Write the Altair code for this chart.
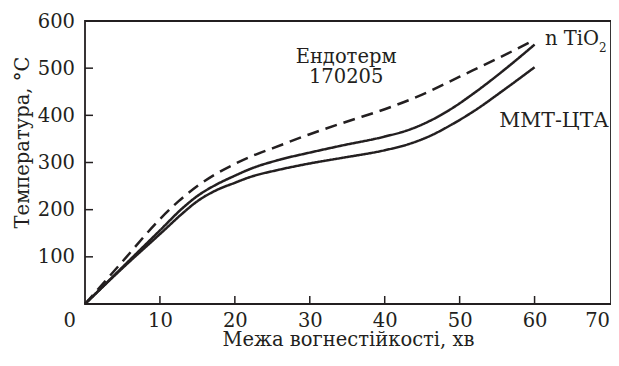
import altair as alt
import pandas as pd

# ---- data ----
x_dash = [0, 5, 10, 12.5, 15, 17.5, 20, 22.5, 25, 30, 35, 40, 45, 50, 55, 60]
y_dash = [0, 90, 180, 218, 250, 276, 297, 315, 330, 360, 387, 413, 444, 482, 520, 560]

x_up = [0, 5, 10, 13, 15, 17.5, 20, 22, 26, 30, 34, 40, 43, 46, 49, 52, 56, 60]
y_up = [0, 78, 156, 203, 229, 253, 272, 286, 306, 321, 335, 355, 368, 388, 415, 448, 497, 550]

x_low = [0, 5, 10.4, 13, 15, 17.5, 20, 22, 26, 30, 34, 40, 43, 46, 49, 52, 56, 60]
y_low = [0, 76, 154, 192, 218, 241, 257, 269, 285, 298, 309, 326, 338, 356, 381, 410, 455, 502]

series_names = ["Ендотерм 170205", "n TiO2", "ММТ-ЦТА"]

x_tick_values = [0, 10, 20, 30, 40, 50, 60, 70]
y_tick_values = [100, 200, 300, 400, 500, 600]
inner_x_ticks = [10, 20, 30, 40, 50, 60]
inner_y_ticks = [100, 200, 300, 400, 500]

center_labels = ["Ендотерм", "170205"]
center_label_x = [34.85, 34.85]
center_label_y = [511, 469]

wide_labels = ["ММТ-ЦТА"]
wide_label_x = [62.6]
wide_label_y = [376]

left_labels = ["n TiO"]
left_label_x = [61.4]
left_label_y = [550]

sub_labels = ["2"]
sub_label_x = [68.6]
sub_label_y = [535]

x_title = "Межа вогнестійкості, хв"
y_title = "Температура, °C"

# ---- build tables ----
rows = []
for name, xs, ys in zip(series_names, [x_dash, x_up, x_low], [y_dash, y_up, y_low]):
    for xv, yv in zip(xs, ys):
        rows.append({"series": name, "x": xv, "y": yv})
lines_df = pd.DataFrame(rows)

INK = "#231f20"
FONT = "DejaVu Serif"
FS = 19.5
W, H = 526, 283

xscale = alt.Scale(domain=[0, 70.2], nice=False, zero=False)
yscale = alt.Scale(domain=[0, 600], nice=False)

x_enc = alt.X(
    "x:Q", scale=xscale,
    axis=alt.Axis(
        title=x_title, values=x_tick_values, ticks=False, tickSize=0, domain=False, grid=False,
        labelExpr="datum.value == 0 ? '' : datum.label", labelFlush=4,
        labelPadding=7.5, labelFont=FONT, labelFontSize=FS, labelColor=INK,
        titleFont=FONT, titleFontSize=FS, titleFontWeight="normal", titleColor=INK,
        titleY=41.5, titleBaseline="alphabetic",
    ),
)
y_enc = alt.Y(
    "y:Q", scale=yscale,
    axis=alt.Axis(
        title=y_title, values=y_tick_values, ticks=False, tickSize=0, domain=False, grid=False,
        labelPadding=10.5, labelFont=FONT, labelFontSize=FS, labelColor=INK, labelFlush=False,
        titleFont=FONT, titleFontSize=FS, titleFontWeight="normal", titleColor=INK,
        titleX=-57, titleY=121, titleAngle=270, titleBaseline="alphabetic", titleAlign="center",
    ),
)

lines = alt.Chart(lines_df).mark_line(strokeWidth=2.5, color=INK, interpolate="monotone").encode(
    x=x_enc,
    y=y_enc,
    detail="series:N",
    strokeDash=alt.StrokeDash(
        "series:N",
        scale=alt.Scale(domain=series_names, range=[[12, 7], [1, 0], [1, 0]]),
        legend=None,
    ),
)

xt = alt.Chart(pd.DataFrame({"x": inner_x_ticks})).mark_rule(color=INK, strokeWidth=1.5).encode(
    x=alt.X("x:Q", scale=xscale),
    y=alt.value(H),
    y2=alt.value(H - 8),
)
yt = alt.Chart(pd.DataFrame({"y": inner_y_ticks})).mark_rule(color=INK, strokeWidth=1.5).encode(
    y=alt.Y("y:Q", scale=yscale),
    x=alt.value(0),
    x2=alt.value(8),
)

origin = alt.Chart(pd.DataFrame({"x": [0], "y": [0], "t": ["0"]})).mark_text(
    font=FONT, fontSize=FS, color=INK, align="right", baseline="top", dx=-9, dy=7.5
).encode(x=alt.X("x:Q", scale=xscale), y=alt.Y("y:Q", scale=yscale), text="t:N")

ctext = alt.Chart(pd.DataFrame({"x": center_label_x, "y": center_label_y, "t": center_labels})).mark_text(
    font=FONT, fontSize=FS, color=INK, align="center", baseline="alphabetic"
).encode(x=alt.X("x:Q", scale=xscale), y=alt.Y("y:Q", scale=yscale), text="t:N")

wtext = alt.Chart(pd.DataFrame({"x": wide_label_x, "y": wide_label_y, "t": wide_labels})).mark_text(
    font=FONT, fontSize=20.5, color=INK, align="center", baseline="alphabetic"
).encode(x=alt.X("x:Q", scale=xscale), y=alt.Y("y:Q", scale=yscale), text="t:N")

ltext = alt.Chart(pd.DataFrame({"x": left_label_x, "y": left_label_y, "t": left_labels})).mark_text(
    font=FONT, fontSize=FS, color=INK, align="left", baseline="alphabetic"
).encode(x=alt.X("x:Q", scale=xscale), y=alt.Y("y:Q", scale=yscale), text="t:N")

stext = alt.Chart(pd.DataFrame({"x": sub_label_x, "y": sub_label_y, "t": sub_labels})).mark_text(
    font=FONT, fontSize=12, color=INK, align="left", baseline="alphabetic"
).encode(x=alt.X("x:Q", scale=xscale), y=alt.Y("y:Q", scale=yscale), text="t:N")

chart = alt.layer(lines, xt, yt, origin, ctext, wtext, ltext, stext).properties(
    width=W, height=H,
    autosize=alt.AutoSizeParams(type="none"),
    padding={"left": 77, "top": 13, "right": 0, "bottom": 46},
    background="white",
).configure_view(stroke=INK, strokeWidth=1.8)

chart.save("out.html", embed_options={"renderer": "svg", "actions": False})
